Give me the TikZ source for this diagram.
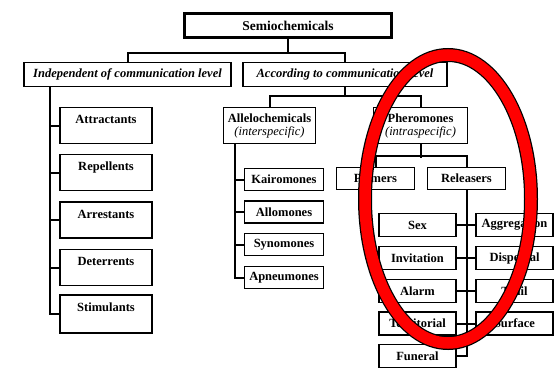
\documentclass[tikz,border=0pt]{standalone}
\usepackage{fontspec}
\setmainfont{Liberation Serif}
\usepackage{tikz}

\begin{document}
\begin{tikzpicture}[x = 1pt, y = -1pt,
		box/.style = {draw, line width = 1.8pt, fill = white, inner sep = 2pt,
			font = \fontsize{12.5}{14}\selectfont\bfseries},
		topbox/.style = {box, minimum width = 92pt, text height = 13pt, text depth = 17pt, inner sep = 3pt},
		smallbox/.style = {box, minimum width = 77pt, minimum height = 23pt},
		levelbox/.style = {box, minimum height = 24pt, font = \fontsize{12.5}{14}\selectfont\bfseries\itshape},
		link/.style = {line width = 2pt}]
	\useasboundingbox (0, 0) rectangle (555, 370);
	\node [box, line width = 2.6pt, minimum width = 207pt, minimum height = 24pt,
		font = \fontsize{13.5}{15}\selectfont\bfseries] (semio) at (288, 25.5) {Semiochemicals};
	\node [levelbox, minimum width = 207pt] (indep) at (127.5, 74.5) {Independent of communication level};
	\node [levelbox, minimum width = 204pt] (accord) at (345, 74.5) {According to communication level};
	\draw [link] (semio.south) -- ++(0, 15);
	\draw [link] (indep.north) -- ++(0, -9) -| (accord.north);

	\node [topbox] (attr) at (106, 125.5) {Attractants};
	\node [topbox] (repel) at (106, 172.5) {Repellents};
	\node [topbox] (arrest) at (106, 220) {Arrestants};
	\node [topbox] (deter) at (106, 267.5) {Deterrents};
	\node [topbox, text depth = 19pt] (stim) at (106, 314) {Stimulants};
	\draw [link] (stim.west) -- ++(-9, 0) coordinate (indepstem) -- (indepstem |- indep.south);
	\foreach \n in {attr, repel, arrest, deter}
		\draw [link] (\n.west) -- ++(-9, 0);

	\node [box, align = center, minimum width = 92pt, minimum height = 36pt] (allelo) at (269.5, 125.5)
		{Allelochemicals\\[-1pt]{\mdseries\itshape (interspecific)}};
	\node [box, align = center, minimum width = 94pt, minimum height = 36pt] (pher) at (420.5, 125.5)
		{Pheromones\\[-1pt]{\mdseries\itshape (intraspecific)}};
	\draw [link] (accord.south) -- ++(0, 10);
	\draw [link] (allelo.north) -- ++(0, -11) -| (pher.north);

	\node [smallbox, minimum width = 79pt, minimum height = 22pt] (kairo) at (284, 179.5) {Kairomones};
	\node [smallbox, minimum width = 79pt, minimum height = 22pt] (allom) at (284, 212) {Allomones};
	\node [smallbox, minimum width = 79pt, minimum height = 22pt] (synom) at (284, 244.5) {Synomones};
	\node [smallbox, minimum width = 79pt, minimum height = 22pt] (apneu) at (284, 277.5) {Apneumones};
	\draw [link] (apneu.west) -- ++(-8.5, 0) coordinate (allelostem) -- (allelostem |- allelo.south);
	\foreach \n in {kairo, allom, synom}
		\draw [link] (\n.west) -- ++(-8.5, 0);

	\node [smallbox, minimum width = 78pt, minimum height = 22pt] (primers) at (375.5, 178.5) {Primers};
	\node [smallbox, minimum width = 78pt, minimum height = 22pt] (releas) at (466.5, 178.5) {Releasers};
	\draw [link] (pher.south) -- ++(0, 13.5);
	\draw [link] (primers.north) -- ++(0, -10.5) -| (releas.north);

	\node [smallbox] (sex) at (417.5, 225) {Sex};
	\node [smallbox] (invit) at (417.5, 258) {Invitation};
	\node [smallbox] (alarm) at (417.5, 291) {Alarm};
	\node [smallbox] (territ) at (417.5, 323.5) {Territorial};
	\node [smallbox] (funeral) at (417.5, 356) {Funeral};
	\node [smallbox] (aggr) at (514.5, 225) {Aggregation};
	\node [smallbox] (dispe) at (514.5, 258) {Dispersal};
	\node [smallbox] (trail) at (514.5, 291) {Trail};
	\node [smallbox] (surf) at (514.5, 323.5) {Surface};
	\draw [link] (releas.south) |- (funeral.east);
	\foreach \l/\r in {sex/aggr, invit/dispe, alarm/trail, territ/surf}
		\draw [link] (\l.east) -- (\r.west);

	\draw [line width = 14pt] (448, 199) ellipse [x radius = 83pt, y radius = 144pt];
	\draw [line width = 11.5pt, red] (448, 199) ellipse [x radius = 83pt, y radius = 144pt];
\end{tikzpicture}
\end{document}
